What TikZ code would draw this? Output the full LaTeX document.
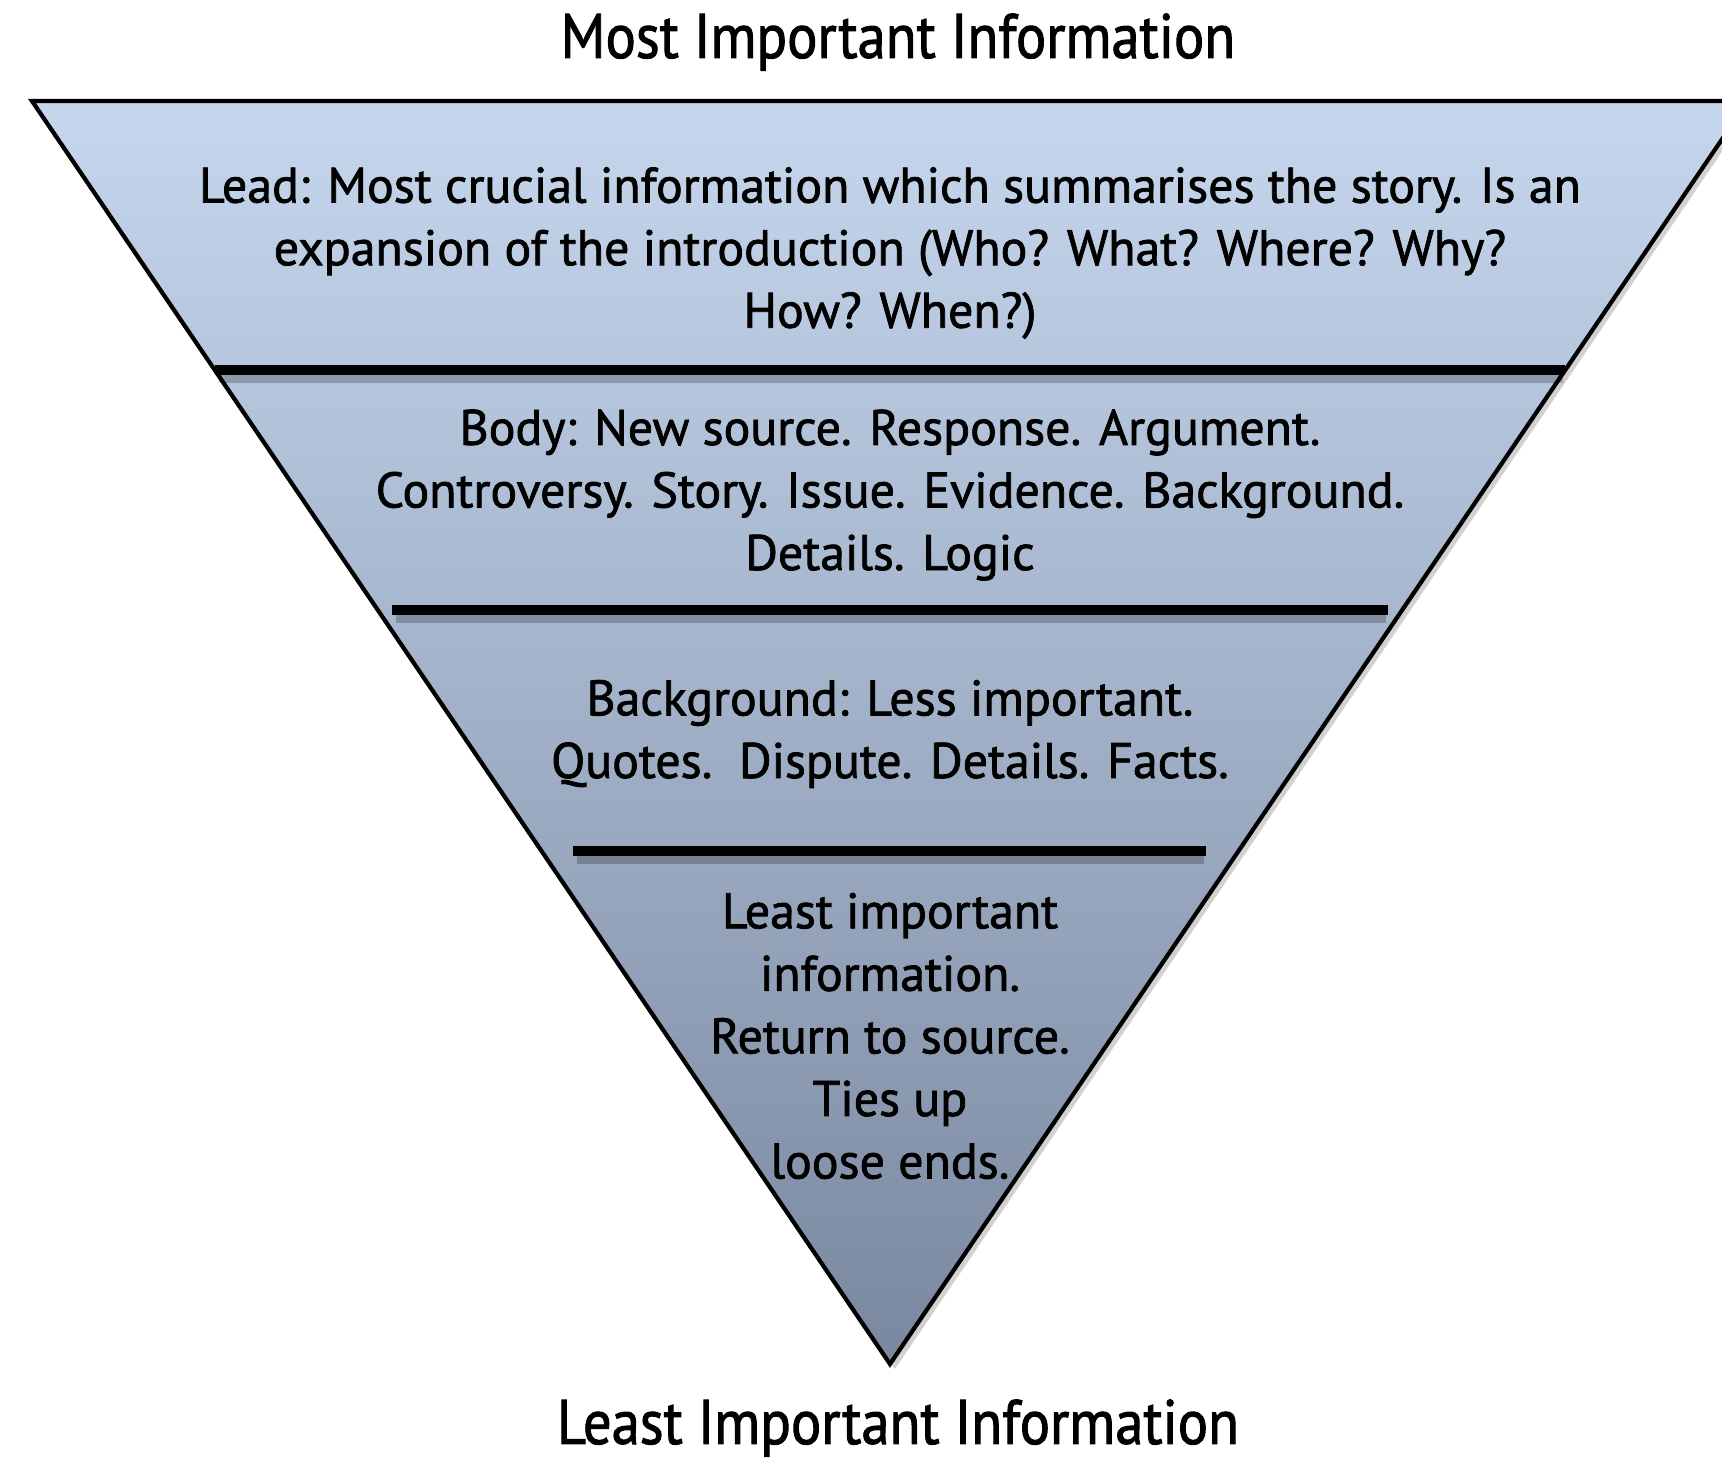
\documentclass[tikz,border=0pt]{standalone}
\usepackage{fontspec}
\setmainfont[FakeStretch=0.9,FakeBold=1.5]{PT Sans}
\newfontfamily\layerfont[FakeBold=1.5]{PT Sans}
\usetikzlibrary{positioning}
\definecolor{leadblue}{HTML}{C6D7ED}
\definecolor{tipblue}{HTML}{7A889F}
\tikzset{
  divider/.style={line width=1mm,line cap=butt},
  dividershade/.style={line width=1.4mm,black,opacity=0.22},
  layertext/.style={align=center,font=\layerfont\fontsize{14.2}{17.8}\selectfont,inner sep=0pt},
  headtext/.style={font=\fontsize{17.9}{21}\selectfont,inner sep=0pt}
}
\begin{document}
\begin{tikzpicture}
    \useasboundingbox (0,0) rectangle (17.22,-14.58);
    \clip (0,0) rectangle (17.22,-14.58);
    %% corners of the pyramid
    \coordinate (TL) at (0.32,-1.01);
    \coordinate (TR) at (17.48,-1.01);
    \coordinate (tip) at (8.90,-13.64);
    %% pyramid with soft shadow
    \fill[black,opacity=0.18] ([shift={(0.05,-0.05)}]TL) -- ([shift={(0.05,-0.05)}]TR)
        -- ([shift={(0.05,-0.05)}]tip) -- cycle;
    \shadedraw[top color=leadblue,bottom color=tipblue,draw=black,line width=1.2pt]
        (TL) -- (TR) -- (tip) -- cycle;
    %% layer dividers
    \foreach \y/\l/\r in {3.70/2.15/15.65, 6.10/3.92/13.88, 8.51/5.73/12.06}
    {
        \draw[dividershade] (\l+0.04,-\y-0.06) -- (\r-0.02,-\y-0.06);
        \draw[divider] (\l,-\y) -- (\r,-\y);
    }
    %% headings
    \node[headtext] (most) at (8.98,-0.42) {Most Important Information};
    \node[headtext] (leastinfo) at (8.98,-14.28) {Least Important Information};
    %% layer texts
    \node[layertext] (lead) at (8.90,-2.53)
        {Lead: Most crucial information which summarises the story. Is an\\
         expansion of the introduction (Who? What? Where? Why?\\
         How? When?)};
    \node[layertext] (body) at (8.90,-4.95)
        {Body: New source. Response. Argument.\\
         Controversy. Story. Issue. Evidence. Background.\\
         Details. Logic};
    \node[layertext] (background) at (8.90,-7.34)
        {Background: Less important.\\
         Quotes.\ \ Dispute. Details. Facts.};
    \node[layertext] (least) at (8.90,-10.36)
        {Least important\\
         information.\\
         Return to source.\\
         Ties up\\
         loose ends.};
\end{tikzpicture}
\end{document}
